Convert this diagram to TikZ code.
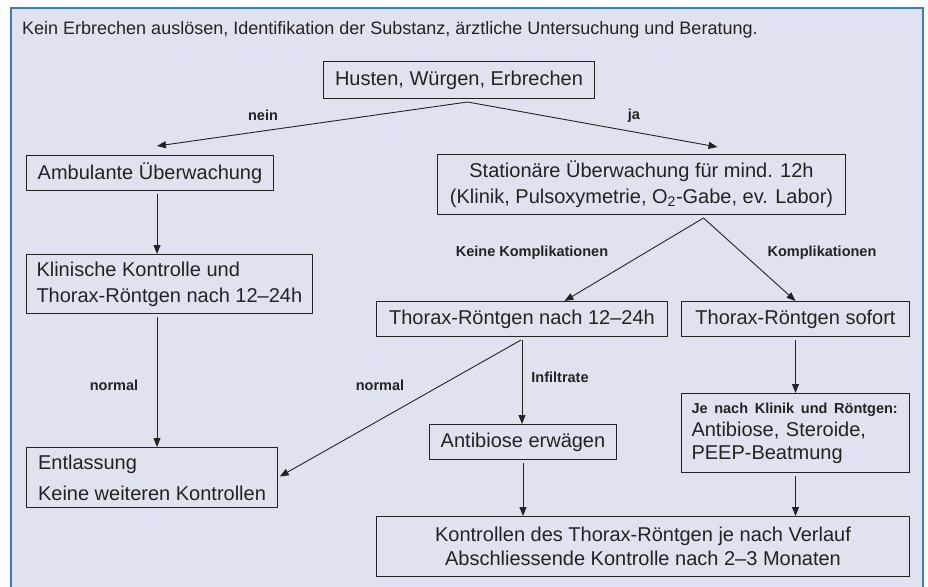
\documentclass[tikz,border=0pt]{standalone}
\usepackage{fontspec}
\setmainfont{Liberation Sans}
\usetikzlibrary{arrows.meta,calc,positioning}

\definecolor{panel}{RGB}{222,227,239}
\definecolor{frameblue}{RGB}{62,124,190}
\definecolor{ink}{RGB}{35,35,35}
\tikzstyle{stepbox}=[draw=ink, line width=1pt, anchor=north west,
                     inner xsep=10pt, inner ysep=0pt, text=ink,
                     font=\fontsize{20}{26}\selectfont]
\tikzstyle{branch}=[text=ink, inner sep=0pt,
                    font=\bfseries\fontsize{14.5}{17}\selectfont]
\tikzstyle{flow}=[draw=ink, line width=0.9pt,
                  -{Triangle[length=9pt,width=7pt]}]

\begin{document}
\begin{tikzpicture}[x=1pt, y=-1pt]
  \useasboundingbox (0,0) rectangle (928,586);
  \clip (0,0) rectangle (928,586);
  % Panel
  \fill[panel] (11,8) rectangle (923,600);
  \draw[frameblue, line width=2.5pt] (11,600) -- (11,8) -- (923,8) -- (923,600);
  \node[anchor=west, inner sep=0pt, text=ink, font=\fontsize{18}{22}\selectfont]
    (intro) at (22,30)
    {Kein Erbrechen auslösen, Identifikation der Substanz, ärztliche Untersuchung und Beratung.};
  %
  % Place the boxes
  \node[stepbox, minimum width=271pt, minimum height=37pt, align=center]
    (husten) at (323,61) {Husten, Würgen, Erbrechen};
  \node[stepbox, minimum width=247pt, minimum height=35pt, align=left]
    (amb) at (26,155) {Ambulante Überwachung};
  \node[stepbox, minimum width=408pt, minimum height=60pt, align=center, inner xsep=2pt]
    (stat) at (437,154) {Stationäre Überwachung für mind. 12h\\
                         (Klinik, Pulsoxymetrie, O\textsubscript{2}-Gabe, ev. Labor)};
  \node[stepbox, minimum width=285pt, minimum height=59pt, align=left]
    (klin) at (26,254) {Klinische Kontrolle und\\Thorax-Röntgen nach 12–24h};
  \node[stepbox, minimum width=291pt, minimum height=35pt, align=center]
    (t1224) at (376,301) {Thorax-Röntgen nach 12–24h};
  \node[stepbox, minimum width=228pt, minimum height=35pt, align=center]
    (tsof) at (681,301) {Thorax-Röntgen sofort};
  \node[stepbox, minimum width=187pt, minimum height=35pt, align=center]
    (antib) at (429,424) {Antibiose erwägen};
  \node[stepbox, text width=208pt, minimum height=79pt, align=left,
        font=\fontsize{20}{23}\selectfont]
    (jenach) at (681,393) {{\bfseries\fontsize{14.5}{17}\selectfont Je nach Klinik und Röntgen:}\\
                           Antibiose, Steroide,\\PEEP-Beatmung};
  \node[stepbox, minimum width=251pt, minimum height=60pt, align=left,
        font=\fontsize{20}{31}\selectfont]
    (entl) at (26,447) {Entlassung\\Keine weiteren Kontrollen};
  \node[stepbox, minimum width=533pt, minimum height=60pt, align=center,
        font=\fontsize{20}{24}\selectfont]
    (kontr) at (376,516) {Kontrollen des Thorax-Röntgen je nach Verlauf\\
                          Abschliessende Kontrolle nach 2–3 Monaten};
  %
  % Fork points and the left column
  \coordinate (hfork) at ($(husten.south)+(8.5,3)$);
  \coordinate (sfork) at ($(stat.south)+(62,3)$);
  \coordinate (lcol) at (157,0);
  %
  % Connect them
  \draw[flow] (hfork) -- ($(amb.north -| lcol)+(0,-9)$);
  \draw[flow] (hfork) -- ($(stat.north)+(76,-7)$);
  \draw[flow] (sfork) -- ($(t1224.north)+(42.5,0)$);
  \draw[flow] (sfork) -- (tsof.north);
  \draw[flow, shorten >=2pt] ($(t1224.south)+(-1,3)$) -- (entl.east);
  \foreach \source/\dest in {amb/klin, klin/entl}
    \draw[flow, shorten <=3pt] (\source.south -| lcol) -- (\dest.north -| lcol);
  \foreach \source/\dest in {t1224/antib, antib/kontr, tsof/jenach, jenach/kontr}
    \draw[flow, shorten <=3pt] (\source.south) -- (\source.south |- \dest.north);
  %
  % Branch labels
  \node[branch] (lnein) at (263,115) {nein};
  \node[branch] (lja) at (634,116) {ja};
  \node[branch] (lkeine) at (532,253) {Keine Komplikationen};
  \node[branch] (lkompl) at (822,253) {Komplikationen};
  \node[branch] (lnorm1) at (114,385) {normal};
  \node[branch] (lnorm2) at (380,385) {normal};
  \node[branch] (linf) at (560,377) {Infiltrate};
\end{tikzpicture}
\end{document}
